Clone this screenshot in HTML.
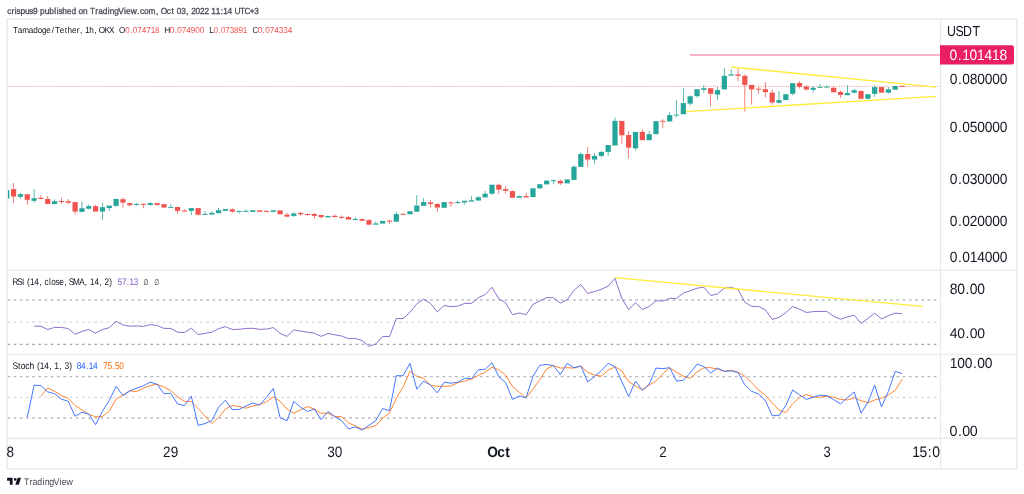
<!DOCTYPE html><html><head><meta charset="utf-8"><title>Tamadoge/Tether chart</title>
<style>html,body{margin:0;padding:0;background:#fff;width:1024px;height:494px;overflow:hidden}svg{display:block}text{font-family:"Liberation Sans", Arial, sans-serif;font-kerning:none;text-rendering:geometricPrecision}</style></head><body>
<svg width="1024" height="494" viewBox="0 0 1024 494">
<text x="7.21 11.66 14.98 16.74 20.58 25.26 29.53 33.23 37.90 40.37 45.04 49.72 54.73 57.19 58.95 62.75 67.37 72.05 76.85 79.24 83.83 88.59 90.93 96.21 99.15 103.73 108.71 110.83 115.27 119.42 124.99 127.10 131.87 138.45 141.17 145.31 149.94 157.35 160.18 162.21 168.34 173.05 176.00 178.33 182.78 187.72 190.56 192.88 197.33 201.77 206.21 210.88 213.21 217.65 222.60 225.21 229.65 234.32 236.48 242.15 246.68 252.02 256.58" y="0" transform="translate(0,14.00) scale(0.9912,1.0508)" font-size="8.405" fill="#434651" stroke="#434651" stroke-width="0.25">crispus9 published on TradingView.com, Oct 03, 2022 11:14 UTC+3</text>
<rect x="7.2" y="19.0" width="1009.6" height="449.9" fill="#fff" stroke="#eaecf0" stroke-width="1.6"/>
<line x1="940.5" y1="19.5" x2="940.5" y2="468.5" stroke="#e8e9ed" stroke-width="1.2"/>
<line x1="7.5" y1="270.1" x2="1016.5" y2="270.1" stroke="#eceef2" stroke-width="1.6"/>
<line x1="7.5" y1="354.5" x2="1016.5" y2="354.5" stroke="#eceef2" stroke-width="1.6"/>
<line x1="7.5" y1="438.4" x2="1016.5" y2="438.4" stroke="#eaeaeb" stroke-width="1.6"/>
<defs><clipPath id="cm"><rect x="8" y="20" width="932" height="250"/></clipPath><clipPath id="cr"><rect x="8" y="271" width="932" height="83"/></clipPath><clipPath id="cs"><rect x="8" y="355" width="932" height="83"/></clipPath><clipPath id="ct"><rect x="7" y="439" width="933" height="30"/></clipPath></defs>
<g clip-path="url(#cm)">
<line x1="690" y1="55" x2="940" y2="55" stroke="#f6b4ca" stroke-width="2"/>
<line x1="8" y1="86.4" x2="940" y2="86.4" stroke="#f3a2a1" stroke-width="1.0" stroke-dasharray="1.2625 1.2625" stroke-dashoffset="0"/>
<rect x="4.17" y="190.20" width="5.2" height="8.30" fill="#26a69a"/>
<rect x="13.23" y="183.10" width="0.75" height="6.00" fill="#ef5350"/>
<rect x="13.23" y="196.60" width="0.75" height="6.40" fill="#ef5350"/>
<rect x="11.00" y="189.10" width="5.2" height="7.50" fill="#ef5350"/>
<rect x="20.06" y="193.00" width="0.75" height="1.20" fill="#26a69a"/>
<rect x="20.06" y="196.80" width="0.75" height="2.00" fill="#26a69a"/>
<rect x="17.84" y="194.20" width="5.2" height="2.60" fill="#26a69a"/>
<rect x="26.90" y="199.80" width="0.75" height="4.90" fill="#ef5350"/>
<rect x="24.67" y="194.20" width="5.2" height="5.60" fill="#ef5350"/>
<rect x="33.73" y="189.10" width="0.75" height="9.10" fill="#26a69a"/>
<rect x="33.73" y="200.80" width="0.75" height="1.90" fill="#26a69a"/>
<rect x="31.51" y="198.20" width="5.2" height="2.60" fill="#26a69a"/>
<rect x="40.56" y="195.20" width="0.75" height="2.60" fill="#ef5350"/>
<rect x="40.56" y="199.00" width="0.75" height="0.30" fill="#ef5350"/>
<rect x="38.34" y="197.80" width="5.2" height="1.20" fill="#ef5350"/>
<rect x="47.40" y="196.00" width="0.75" height="3.00" fill="#ef5350"/>
<rect x="47.40" y="203.90" width="0.75" height="0.60" fill="#ef5350"/>
<rect x="45.17" y="199.00" width="5.2" height="4.90" fill="#ef5350"/>
<rect x="54.23" y="199.30" width="0.75" height="1.90" fill="#26a69a"/>
<rect x="52.01" y="201.20" width="5.2" height="2.90" fill="#26a69a"/>
<rect x="61.07" y="198.00" width="0.75" height="3.00" fill="#ef5350"/>
<rect x="61.07" y="202.00" width="0.75" height="1.90" fill="#ef5350"/>
<rect x="58.84" y="201.00" width="5.2" height="1.00" fill="#ef5350"/>
<rect x="67.90" y="199.00" width="0.75" height="2.20" fill="#ef5350"/>
<rect x="67.90" y="202.80" width="0.75" height="0.90" fill="#ef5350"/>
<rect x="65.68" y="201.20" width="5.2" height="1.60" fill="#ef5350"/>
<rect x="74.73" y="211.60" width="0.75" height="3.00" fill="#ef5350"/>
<rect x="72.51" y="202.10" width="5.2" height="9.50" fill="#ef5350"/>
<rect x="81.57" y="201.50" width="0.75" height="6.70" fill="#26a69a"/>
<rect x="79.34" y="208.20" width="5.2" height="3.70" fill="#26a69a"/>
<rect x="88.40" y="204.30" width="0.75" height="1.80" fill="#26a69a"/>
<rect x="88.40" y="208.70" width="0.75" height="1.00" fill="#26a69a"/>
<rect x="86.18" y="206.10" width="5.2" height="2.60" fill="#26a69a"/>
<rect x="95.24" y="204.90" width="0.75" height="1.20" fill="#ef5350"/>
<rect x="93.01" y="206.10" width="5.2" height="5.50" fill="#ef5350"/>
<rect x="102.07" y="203.10" width="0.75" height="4.10" fill="#26a69a"/>
<rect x="102.07" y="211.60" width="0.75" height="8.10" fill="#26a69a"/>
<rect x="99.85" y="207.20" width="5.2" height="4.40" fill="#26a69a"/>
<rect x="108.90" y="208.10" width="0.75" height="2.80" fill="#26a69a"/>
<rect x="106.68" y="205.60" width="5.2" height="2.50" fill="#26a69a"/>
<rect x="115.74" y="205.80" width="0.75" height="1.10" fill="#26a69a"/>
<rect x="113.51" y="198.90" width="5.2" height="6.90" fill="#26a69a"/>
<rect x="122.57" y="197.40" width="0.75" height="1.80" fill="#ef5350"/>
<rect x="122.57" y="202.70" width="0.75" height="4.90" fill="#ef5350"/>
<rect x="120.35" y="199.20" width="5.2" height="3.50" fill="#ef5350"/>
<rect x="129.41" y="203.00" width="0.75" height="0.10" fill="#ef5350"/>
<rect x="129.41" y="205.20" width="0.75" height="1.40" fill="#ef5350"/>
<rect x="127.18" y="203.10" width="5.2" height="2.10" fill="#ef5350"/>
<rect x="136.24" y="202.70" width="0.75" height="1.20" fill="#26a69a"/>
<rect x="136.24" y="204.90" width="0.75" height="0.70" fill="#26a69a"/>
<rect x="134.02" y="203.90" width="5.2" height="1.00" fill="#26a69a"/>
<rect x="143.08" y="203.50" width="0.75" height="0.40" fill="#ef5350"/>
<rect x="143.08" y="204.90" width="0.75" height="3.40" fill="#ef5350"/>
<rect x="140.85" y="203.90" width="5.2" height="1.00" fill="#ef5350"/>
<rect x="149.91" y="202.20" width="0.75" height="0.90" fill="#26a69a"/>
<rect x="149.91" y="204.90" width="0.75" height="1.00" fill="#26a69a"/>
<rect x="147.68" y="203.10" width="5.2" height="1.80" fill="#26a69a"/>
<rect x="156.74" y="204.90" width="0.75" height="1.00" fill="#ef5350"/>
<rect x="154.52" y="203.10" width="5.2" height="1.80" fill="#ef5350"/>
<rect x="163.58" y="203.80" width="0.75" height="0.40" fill="#ef5350"/>
<rect x="161.35" y="204.20" width="5.2" height="3.40" fill="#ef5350"/>
<rect x="170.41" y="204.20" width="0.75" height="2.70" fill="#26a69a"/>
<rect x="168.19" y="206.90" width="5.2" height="1.00" fill="#26a69a"/>
<rect x="177.25" y="210.90" width="0.75" height="2.80" fill="#ef5350"/>
<rect x="175.02" y="207.00" width="5.2" height="3.90" fill="#ef5350"/>
<rect x="184.08" y="209.10" width="0.75" height="1.40" fill="#ef5350"/>
<rect x="184.08" y="211.60" width="0.75" height="0.50" fill="#ef5350"/>
<rect x="181.85" y="210.50" width="5.2" height="1.10" fill="#ef5350"/>
<rect x="190.91" y="210.90" width="0.75" height="4.00" fill="#26a69a"/>
<rect x="188.69" y="208.10" width="5.2" height="2.80" fill="#26a69a"/>
<rect x="197.75" y="214.80" width="0.75" height="0.70" fill="#ef5350"/>
<rect x="195.52" y="208.10" width="5.2" height="6.70" fill="#ef5350"/>
<rect x="204.58" y="211.10" width="0.75" height="2.80" fill="#26a69a"/>
<rect x="202.36" y="213.90" width="5.2" height="1.00" fill="#26a69a"/>
<rect x="211.41" y="211.10" width="0.75" height="1.80" fill="#26a69a"/>
<rect x="209.19" y="212.90" width="5.2" height="1.70" fill="#26a69a"/>
<rect x="218.25" y="207.80" width="0.75" height="2.40" fill="#26a69a"/>
<rect x="216.02" y="210.20" width="5.2" height="3.00" fill="#26a69a"/>
<rect x="222.86" y="209.10" width="5.2" height="1.80" fill="#26a69a"/>
<rect x="231.92" y="208.10" width="0.75" height="1.20" fill="#ef5350"/>
<rect x="231.92" y="211.70" width="0.75" height="1.20" fill="#ef5350"/>
<rect x="229.69" y="209.30" width="5.2" height="2.40" fill="#ef5350"/>
<rect x="238.75" y="210.50" width="0.75" height="0.40" fill="#26a69a"/>
<rect x="238.75" y="211.90" width="0.75" height="1.60" fill="#26a69a"/>
<rect x="236.53" y="210.90" width="5.2" height="1.00" fill="#26a69a"/>
<rect x="245.59" y="209.30" width="0.75" height="1.55" fill="#26a69a"/>
<rect x="243.36" y="210.85" width="5.2" height="1.00" fill="#26a69a"/>
<rect x="250.19" y="210.20" width="5.2" height="1.70" fill="#26a69a"/>
<rect x="257.03" y="210.30" width="5.2" height="1.50" fill="#ef5350"/>
<rect x="266.09" y="210.50" width="0.75" height="0.40" fill="#ef5350"/>
<rect x="266.09" y="211.90" width="0.75" height="0.40" fill="#ef5350"/>
<rect x="263.86" y="210.90" width="5.2" height="1.00" fill="#ef5350"/>
<rect x="272.92" y="211.80" width="0.75" height="0.70" fill="#26a69a"/>
<rect x="270.70" y="210.30" width="5.2" height="1.50" fill="#26a69a"/>
<rect x="277.53" y="210.40" width="5.2" height="3.90" fill="#ef5350"/>
<rect x="286.59" y="213.00" width="0.75" height="1.60" fill="#ef5350"/>
<rect x="286.59" y="216.70" width="0.75" height="0.60" fill="#ef5350"/>
<rect x="284.36" y="214.60" width="5.2" height="2.10" fill="#ef5350"/>
<rect x="293.42" y="212.10" width="0.75" height="1.30" fill="#26a69a"/>
<rect x="293.42" y="215.90" width="0.75" height="1.10" fill="#26a69a"/>
<rect x="291.20" y="213.40" width="5.2" height="2.50" fill="#26a69a"/>
<rect x="300.26" y="212.10" width="0.75" height="0.70" fill="#ef5350"/>
<rect x="300.26" y="214.30" width="0.75" height="1.40" fill="#ef5350"/>
<rect x="298.03" y="212.80" width="5.2" height="1.50" fill="#ef5350"/>
<rect x="307.09" y="213.40" width="0.75" height="0.60" fill="#ef5350"/>
<rect x="307.09" y="215.00" width="0.75" height="0.90" fill="#ef5350"/>
<rect x="304.87" y="214.00" width="5.2" height="1.00" fill="#ef5350"/>
<rect x="313.92" y="212.90" width="0.75" height="1.10" fill="#ef5350"/>
<rect x="313.92" y="215.90" width="0.75" height="2.80" fill="#ef5350"/>
<rect x="311.70" y="214.00" width="5.2" height="1.90" fill="#ef5350"/>
<rect x="320.76" y="217.10" width="0.75" height="1.60" fill="#ef5350"/>
<rect x="318.53" y="215.00" width="5.2" height="2.10" fill="#ef5350"/>
<rect x="325.37" y="215.90" width="5.2" height="1.50" fill="#26a69a"/>
<rect x="334.43" y="214.10" width="0.75" height="1.70" fill="#ef5350"/>
<rect x="332.20" y="215.80" width="5.2" height="1.30" fill="#ef5350"/>
<rect x="341.26" y="215.60" width="0.75" height="1.20" fill="#ef5350"/>
<rect x="341.26" y="217.90" width="0.75" height="0.80" fill="#ef5350"/>
<rect x="339.04" y="216.80" width="5.2" height="1.10" fill="#ef5350"/>
<rect x="348.09" y="216.20" width="0.75" height="0.80" fill="#ef5350"/>
<rect x="345.87" y="217.00" width="5.2" height="2.60" fill="#ef5350"/>
<rect x="354.93" y="217.10" width="0.75" height="1.90" fill="#26a69a"/>
<rect x="352.70" y="219.00" width="5.2" height="1.00" fill="#26a69a"/>
<rect x="361.76" y="218.40" width="0.75" height="0.70" fill="#ef5350"/>
<rect x="359.54" y="219.10" width="5.2" height="1.70" fill="#ef5350"/>
<rect x="368.60" y="219.10" width="0.75" height="1.00" fill="#ef5350"/>
<rect x="368.60" y="224.70" width="0.75" height="0.50" fill="#ef5350"/>
<rect x="366.37" y="220.10" width="5.2" height="4.60" fill="#ef5350"/>
<rect x="375.43" y="221.20" width="0.75" height="2.20" fill="#26a69a"/>
<rect x="373.21" y="223.40" width="5.2" height="1.30" fill="#26a69a"/>
<rect x="380.04" y="220.90" width="5.2" height="2.70" fill="#26a69a"/>
<rect x="389.10" y="219.80" width="0.75" height="0.80" fill="#ef5350"/>
<rect x="389.10" y="221.70" width="0.75" height="2.10" fill="#ef5350"/>
<rect x="386.87" y="220.60" width="5.2" height="1.10" fill="#ef5350"/>
<rect x="395.93" y="211.70" width="0.75" height="2.40" fill="#26a69a"/>
<rect x="393.71" y="214.10" width="5.2" height="7.60" fill="#26a69a"/>
<rect x="402.77" y="213.50" width="0.75" height="0.30" fill="#ef5350"/>
<rect x="400.54" y="213.80" width="5.2" height="1.00" fill="#ef5350"/>
<rect x="407.38" y="211.20" width="5.2" height="3.10" fill="#26a69a"/>
<rect x="416.43" y="195.00" width="0.75" height="10.50" fill="#26a69a"/>
<rect x="414.21" y="205.50" width="5.2" height="6.20" fill="#26a69a"/>
<rect x="423.27" y="198.10" width="0.75" height="4.00" fill="#26a69a"/>
<rect x="421.04" y="202.10" width="5.2" height="3.70" fill="#26a69a"/>
<rect x="430.10" y="200.10" width="0.75" height="2.30" fill="#ef5350"/>
<rect x="430.10" y="204.00" width="0.75" height="3.60" fill="#ef5350"/>
<rect x="427.88" y="202.40" width="5.2" height="1.60" fill="#ef5350"/>
<rect x="436.94" y="203.30" width="0.75" height="0.70" fill="#ef5350"/>
<rect x="436.94" y="207.60" width="0.75" height="4.20" fill="#ef5350"/>
<rect x="434.71" y="204.00" width="5.2" height="3.60" fill="#ef5350"/>
<rect x="441.55" y="202.10" width="5.2" height="5.70" fill="#26a69a"/>
<rect x="450.60" y="201.30" width="0.75" height="1.10" fill="#ef5350"/>
<rect x="450.60" y="203.50" width="0.75" height="3.50" fill="#ef5350"/>
<rect x="448.38" y="202.40" width="5.2" height="1.10" fill="#ef5350"/>
<rect x="457.44" y="200.70" width="0.75" height="1.30" fill="#26a69a"/>
<rect x="457.44" y="203.00" width="0.75" height="1.10" fill="#26a69a"/>
<rect x="455.21" y="202.00" width="5.2" height="1.00" fill="#26a69a"/>
<rect x="464.27" y="202.40" width="0.75" height="2.20" fill="#26a69a"/>
<rect x="462.05" y="200.70" width="5.2" height="1.70" fill="#26a69a"/>
<rect x="471.11" y="196.20" width="0.75" height="4.10" fill="#26a69a"/>
<rect x="468.88" y="200.30" width="5.2" height="1.30" fill="#26a69a"/>
<rect x="477.94" y="196.20" width="0.75" height="1.00" fill="#26a69a"/>
<rect x="475.72" y="197.20" width="5.2" height="3.40" fill="#26a69a"/>
<rect x="484.77" y="190.90" width="0.75" height="2.80" fill="#26a69a"/>
<rect x="482.55" y="193.70" width="5.2" height="3.70" fill="#26a69a"/>
<rect x="491.61" y="193.70" width="0.75" height="1.10" fill="#26a69a"/>
<rect x="489.38" y="184.70" width="5.2" height="9.00" fill="#26a69a"/>
<rect x="498.44" y="183.50" width="0.75" height="1.30" fill="#ef5350"/>
<rect x="498.44" y="189.70" width="0.75" height="4.30" fill="#ef5350"/>
<rect x="496.22" y="184.80" width="5.2" height="4.90" fill="#ef5350"/>
<rect x="505.28" y="186.20" width="0.75" height="2.90" fill="#ef5350"/>
<rect x="505.28" y="190.90" width="0.75" height="2.80" fill="#ef5350"/>
<rect x="503.05" y="189.10" width="5.2" height="1.80" fill="#ef5350"/>
<rect x="512.11" y="190.50" width="0.75" height="0.60" fill="#ef5350"/>
<rect x="509.89" y="191.10" width="5.2" height="6.70" fill="#ef5350"/>
<rect x="518.94" y="195.40" width="0.75" height="0.80" fill="#26a69a"/>
<rect x="516.72" y="196.20" width="5.2" height="1.60" fill="#26a69a"/>
<rect x="525.78" y="192.40" width="0.75" height="3.70" fill="#ef5350"/>
<rect x="523.55" y="196.10" width="5.2" height="1.40" fill="#ef5350"/>
<rect x="530.39" y="188.30" width="5.2" height="8.80" fill="#26a69a"/>
<rect x="539.45" y="188.30" width="0.75" height="1.00" fill="#26a69a"/>
<rect x="537.22" y="184.20" width="5.2" height="4.10" fill="#26a69a"/>
<rect x="546.28" y="180.20" width="0.75" height="0.40" fill="#26a69a"/>
<rect x="544.06" y="180.60" width="5.2" height="3.80" fill="#26a69a"/>
<rect x="553.12" y="179.60" width="0.75" height="0.60" fill="#26a69a"/>
<rect x="553.12" y="181.20" width="0.75" height="3.20" fill="#26a69a"/>
<rect x="550.89" y="180.20" width="5.2" height="1.00" fill="#26a69a"/>
<rect x="559.95" y="179.40" width="0.75" height="1.50" fill="#ef5350"/>
<rect x="559.95" y="183.40" width="0.75" height="1.50" fill="#ef5350"/>
<rect x="557.72" y="180.90" width="5.2" height="2.50" fill="#ef5350"/>
<rect x="564.56" y="179.40" width="5.2" height="4.00" fill="#26a69a"/>
<rect x="573.62" y="165.20" width="0.75" height="1.50" fill="#26a69a"/>
<rect x="571.39" y="166.70" width="5.2" height="13.20" fill="#26a69a"/>
<rect x="580.45" y="152.30" width="0.75" height="1.70" fill="#26a69a"/>
<rect x="578.23" y="154.00" width="5.2" height="12.90" fill="#26a69a"/>
<rect x="587.28" y="147.10" width="0.75" height="6.90" fill="#ef5350"/>
<rect x="587.28" y="159.60" width="0.75" height="6.90" fill="#ef5350"/>
<rect x="585.06" y="154.00" width="5.2" height="5.60" fill="#ef5350"/>
<rect x="594.12" y="153.10" width="0.75" height="2.80" fill="#26a69a"/>
<rect x="594.12" y="159.60" width="0.75" height="3.90" fill="#26a69a"/>
<rect x="591.89" y="155.90" width="5.2" height="3.70" fill="#26a69a"/>
<rect x="600.95" y="151.10" width="0.75" height="0.80" fill="#26a69a"/>
<rect x="600.95" y="155.90" width="0.75" height="1.70" fill="#26a69a"/>
<rect x="598.73" y="151.90" width="5.2" height="4.00" fill="#26a69a"/>
<rect x="607.79" y="151.90" width="0.75" height="3.70" fill="#26a69a"/>
<rect x="605.56" y="145.00" width="5.2" height="6.90" fill="#26a69a"/>
<rect x="614.62" y="117.50" width="0.75" height="3.40" fill="#26a69a"/>
<rect x="612.40" y="120.90" width="5.2" height="24.60" fill="#26a69a"/>
<rect x="621.45" y="135.30" width="0.75" height="8.40" fill="#ef5350"/>
<rect x="619.23" y="120.90" width="5.2" height="14.40" fill="#ef5350"/>
<rect x="628.29" y="131.00" width="0.75" height="4.00" fill="#ef5350"/>
<rect x="628.29" y="147.70" width="0.75" height="10.90" fill="#ef5350"/>
<rect x="626.06" y="135.00" width="5.2" height="12.70" fill="#ef5350"/>
<rect x="635.12" y="148.30" width="0.75" height="2.40" fill="#26a69a"/>
<rect x="632.90" y="131.90" width="5.2" height="16.40" fill="#26a69a"/>
<rect x="641.96" y="129.10" width="0.75" height="2.80" fill="#ef5350"/>
<rect x="639.73" y="131.90" width="5.2" height="8.30" fill="#ef5350"/>
<rect x="648.79" y="131.00" width="0.75" height="3.20" fill="#26a69a"/>
<rect x="646.57" y="134.20" width="5.2" height="6.00" fill="#26a69a"/>
<rect x="653.40" y="121.20" width="5.2" height="13.00" fill="#26a69a"/>
<rect x="662.46" y="119.30" width="0.75" height="1.45" fill="#ef5350"/>
<rect x="662.46" y="121.75" width="0.75" height="6.05" fill="#ef5350"/>
<rect x="660.23" y="120.75" width="5.2" height="1.00" fill="#ef5350"/>
<rect x="669.29" y="112.30" width="0.75" height="2.80" fill="#26a69a"/>
<rect x="667.07" y="115.10" width="5.2" height="6.40" fill="#26a69a"/>
<rect x="676.13" y="100.20" width="0.75" height="14.40" fill="#26a69a"/>
<rect x="676.13" y="115.60" width="0.75" height="1.60" fill="#26a69a"/>
<rect x="673.90" y="114.60" width="5.2" height="1.00" fill="#26a69a"/>
<rect x="682.96" y="88.30" width="0.75" height="14.80" fill="#26a69a"/>
<rect x="680.74" y="103.10" width="5.2" height="11.20" fill="#26a69a"/>
<rect x="689.79" y="95.50" width="0.75" height="0.70" fill="#26a69a"/>
<rect x="689.79" y="103.70" width="0.75" height="1.90" fill="#26a69a"/>
<rect x="687.57" y="96.20" width="5.2" height="7.50" fill="#26a69a"/>
<rect x="696.63" y="96.20" width="0.75" height="1.50" fill="#26a69a"/>
<rect x="694.40" y="89.20" width="5.2" height="7.00" fill="#26a69a"/>
<rect x="703.46" y="85.30" width="0.75" height="2.90" fill="#26a69a"/>
<rect x="703.46" y="89.80" width="0.75" height="2.80" fill="#26a69a"/>
<rect x="701.24" y="88.20" width="5.2" height="1.60" fill="#26a69a"/>
<rect x="710.30" y="93.80" width="0.75" height="12.60" fill="#ef5350"/>
<rect x="708.07" y="88.20" width="5.2" height="5.60" fill="#ef5350"/>
<rect x="717.13" y="87.00" width="0.75" height="3.10" fill="#26a69a"/>
<rect x="717.13" y="94.60" width="0.75" height="5.30" fill="#26a69a"/>
<rect x="714.91" y="90.10" width="5.2" height="4.50" fill="#26a69a"/>
<rect x="723.96" y="67.90" width="0.75" height="7.90" fill="#26a69a"/>
<rect x="721.74" y="75.80" width="5.2" height="13.60" fill="#26a69a"/>
<rect x="730.80" y="69.10" width="0.75" height="5.20" fill="#26a69a"/>
<rect x="728.57" y="74.30" width="5.2" height="1.30" fill="#26a69a"/>
<rect x="737.63" y="69.10" width="0.75" height="5.20" fill="#ef5350"/>
<rect x="737.63" y="75.80" width="0.75" height="5.10" fill="#ef5350"/>
<rect x="735.41" y="74.30" width="5.2" height="1.50" fill="#ef5350"/>
<rect x="744.47" y="74.30" width="0.75" height="1.50" fill="#ef5350"/>
<rect x="744.47" y="84.90" width="0.75" height="26.70" fill="#ef5350"/>
<rect x="742.24" y="75.80" width="5.2" height="9.10" fill="#ef5350"/>
<rect x="751.30" y="89.40" width="0.75" height="15.30" fill="#ef5350"/>
<rect x="749.08" y="84.90" width="5.2" height="4.50" fill="#ef5350"/>
<rect x="758.13" y="87.00" width="0.75" height="1.70" fill="#ef5350"/>
<rect x="758.13" y="89.70" width="0.75" height="4.10" fill="#ef5350"/>
<rect x="755.91" y="88.70" width="5.2" height="1.00" fill="#ef5350"/>
<rect x="764.97" y="82.10" width="0.75" height="7.10" fill="#ef5350"/>
<rect x="764.97" y="92.20" width="0.75" height="5.20" fill="#ef5350"/>
<rect x="762.74" y="89.20" width="5.2" height="3.00" fill="#ef5350"/>
<rect x="771.80" y="89.80" width="0.75" height="2.80" fill="#ef5350"/>
<rect x="771.80" y="102.50" width="0.75" height="2.20" fill="#ef5350"/>
<rect x="769.58" y="92.60" width="5.2" height="9.90" fill="#ef5350"/>
<rect x="778.64" y="91.00" width="0.75" height="9.10" fill="#26a69a"/>
<rect x="778.64" y="102.80" width="0.75" height="0.90" fill="#26a69a"/>
<rect x="776.41" y="100.10" width="5.2" height="2.70" fill="#26a69a"/>
<rect x="783.25" y="94.20" width="5.2" height="5.90" fill="#26a69a"/>
<rect x="792.30" y="93.80" width="0.75" height="1.40" fill="#26a69a"/>
<rect x="790.08" y="83.20" width="5.2" height="10.60" fill="#26a69a"/>
<rect x="799.14" y="81.20" width="0.75" height="1.80" fill="#ef5350"/>
<rect x="799.14" y="86.80" width="0.75" height="1.70" fill="#ef5350"/>
<rect x="796.91" y="83.00" width="5.2" height="3.80" fill="#ef5350"/>
<rect x="805.97" y="85.00" width="0.75" height="1.50" fill="#ef5350"/>
<rect x="805.97" y="89.50" width="0.75" height="1.30" fill="#ef5350"/>
<rect x="803.75" y="86.50" width="5.2" height="3.00" fill="#ef5350"/>
<rect x="812.81" y="86.00" width="0.75" height="1.80" fill="#26a69a"/>
<rect x="812.81" y="89.80" width="0.75" height="2.70" fill="#26a69a"/>
<rect x="810.58" y="87.80" width="5.2" height="2.00" fill="#26a69a"/>
<rect x="819.64" y="84.00" width="0.75" height="2.80" fill="#26a69a"/>
<rect x="817.42" y="86.80" width="5.2" height="1.00" fill="#26a69a"/>
<rect x="826.47" y="85.20" width="0.75" height="1.40" fill="#26a69a"/>
<rect x="826.47" y="87.60" width="0.75" height="0.50" fill="#26a69a"/>
<rect x="824.25" y="86.60" width="5.2" height="1.00" fill="#26a69a"/>
<rect x="833.31" y="86.50" width="0.75" height="1.30" fill="#ef5350"/>
<rect x="831.08" y="87.80" width="5.2" height="4.50" fill="#ef5350"/>
<rect x="840.14" y="90.40" width="0.75" height="1.60" fill="#ef5350"/>
<rect x="840.14" y="94.90" width="0.75" height="3.00" fill="#ef5350"/>
<rect x="837.92" y="92.00" width="5.2" height="2.90" fill="#ef5350"/>
<rect x="846.98" y="85.30" width="0.75" height="7.70" fill="#26a69a"/>
<rect x="844.75" y="93.00" width="5.2" height="2.20" fill="#26a69a"/>
<rect x="853.81" y="88.80" width="0.75" height="1.40" fill="#26a69a"/>
<rect x="853.81" y="92.70" width="0.75" height="0.70" fill="#26a69a"/>
<rect x="851.59" y="90.20" width="5.2" height="2.50" fill="#26a69a"/>
<rect x="860.64" y="90.40" width="0.75" height="0.60" fill="#ef5350"/>
<rect x="858.42" y="91.00" width="5.2" height="7.80" fill="#ef5350"/>
<rect x="867.48" y="98.80" width="0.75" height="0.70" fill="#26a69a"/>
<rect x="865.25" y="94.20" width="5.2" height="4.60" fill="#26a69a"/>
<rect x="874.31" y="85.30" width="0.75" height="1.80" fill="#26a69a"/>
<rect x="874.31" y="93.90" width="0.75" height="2.90" fill="#26a69a"/>
<rect x="872.09" y="87.10" width="5.2" height="6.80" fill="#26a69a"/>
<rect x="878.92" y="87.10" width="5.2" height="5.60" fill="#ef5350"/>
<rect x="887.98" y="87.10" width="0.75" height="2.20" fill="#26a69a"/>
<rect x="887.98" y="92.70" width="0.75" height="1.00" fill="#26a69a"/>
<rect x="885.76" y="89.30" width="5.2" height="3.40" fill="#26a69a"/>
<rect x="892.59" y="86.00" width="5.2" height="3.70" fill="#26a69a"/>
<rect x="899.42" y="85.80" width="5.2" height="1.10" fill="#ef5350"/>
<line x1="731.3" y1="67" x2="936.3" y2="87.1" stroke="#ffeb3b" stroke-width="1.35"/>
<line x1="686" y1="111.6" x2="936.3" y2="96.3" stroke="#ffeb3b" stroke-width="1.35"/>
</g>
<text x="13.02 17.76 22.17 28.84 33.26 37.73 41.98 46.26 51.76 54.92 59.75 64.73 67.44 71.90 76.63 79.95 82.68 84.91 89.28 94.15 96.88 98.83 104.39 109.02" y="0" transform="translate(0,33.15) scale(1.0000,1.0668)" font-size="8.175" fill="#131722">Tamadoge/Tether, 1h, OKX</text>
<text x="137.47" y="0" transform="translate(0,33.15) scale(0.8665,0.9379)" font-size="9.298" fill="#131722">O</text>
<text x="129.50 134.59 137.32 141.92 146.52 151.11 155.71 160.31" y="0" transform="translate(0,33.15) scale(0.9674,1.0121)" font-size="8.490" fill="#ef5350">0.074718</text>
<text x="181.33" y="0" transform="translate(0,33.15) scale(0.9056,0.9387)" font-size="9.291" fill="#131722">H</text>
<text x="175.50 180.60 183.33 187.94 192.55 197.15 201.76 206.37" y="0" transform="translate(0,33.15) scale(0.9674,1.0102)" font-size="8.506" fill="#ef5350">0.074900</text>
<text x="230.08" y="0" transform="translate(0,33.15) scale(0.9098,0.9718)" font-size="8.974" fill="#131722">L</text>
<text x="220.67 225.68 228.37 232.89 237.41 241.93 246.46 250.98" y="0" transform="translate(0,33.15) scale(0.9674,1.0291)" font-size="8.350" fill="#ef5350">0.073891</text>
<text x="305.07" y="0" transform="translate(0,33.15) scale(0.8281,0.9528)" font-size="9.153" fill="#131722">C</text>
<text x="266.36 271.47 274.22 278.84 283.47 288.09 292.71 297.34" y="0" transform="translate(0,33.15) scale(0.9674,1.0066)" font-size="8.536" fill="#ef5350">0.074334</text>
<text x="1109.66 1119.66 1128.56 1139.52" y="0" transform="translate(0,35.90) scale(0.8534,1.0019)" font-size="14.508" fill="#131722">USDT</text>
<path d="M940 45.3 H1011.9 a2.1 2.1 0 0 1 2.1 2.1 V62.5 a2.1 2.1 0 0 1 -2.1 2.1 H940 Z" fill="#e91e63"/>
<text x="981.44 989.99 994.57 1002.30 1010.02 1017.74 1025.47 1033.19" y="0" transform="translate(0,59.90) scale(0.9674,1.0445)" font-size="14.260" fill="#fff">0.101418</text>
<text x="981.65 990.20 994.79 1002.52 1010.25 1017.98 1025.70 1033.43" y="0" transform="translate(0,83.50) scale(0.9674,1.0388)" font-size="14.270" fill="#131722">0.080000</text>
<text x="981.65 990.20 994.79 1002.52 1010.25 1017.98 1025.70 1033.43" y="0" transform="translate(0,131.90) scale(0.9674,1.0388)" font-size="14.270" fill="#131722">0.050000</text>
<text x="981.65 990.20 994.79 1002.52 1010.25 1017.98 1025.70 1033.43" y="0" transform="translate(0,184.40) scale(0.9674,1.0388)" font-size="14.270" fill="#131722">0.030000</text>
<text x="981.65 990.20 994.79 1002.52 1010.25 1017.98 1025.70 1033.43" y="0" transform="translate(0,226.10) scale(0.9674,1.0388)" font-size="14.270" fill="#131722">0.020000</text>
<text x="981.65 990.20 994.79 1002.52 1010.25 1017.98 1025.70 1033.43" y="0" transform="translate(0,262.40) scale(0.9674,1.0388)" font-size="14.270" fill="#131722">0.014000</text>
<g clip-path="url(#cr)">
<line x1="8" y1="300.0" x2="940" y2="300.0" stroke="#b9bcc2" stroke-width="1.4" stroke-dasharray="2.7 3.5175" stroke-dashoffset="0.67"/>
<line x1="8" y1="322.1" x2="940" y2="322.1" stroke="#d6d7dc" stroke-width="1.3" stroke-dasharray="2.7 3.5175" stroke-dashoffset="0.67"/>
<line x1="8" y1="344.4" x2="940" y2="344.4" stroke="#a3a6ae" stroke-width="1.2" stroke-dasharray="2.7 3.5175" stroke-dashoffset="0.67"/>
<polyline points="34.11,326.20 40.94,326.20 47.77,329.50 54.61,327.40 61.44,327.40 68.28,328.60 75.11,334.30 81.94,331.30 88.78,329.50 95.61,333.10 102.45,329.50 109.28,327.70 116.11,321.30 122.95,325.00 129.78,326.20 136.62,326.00 143.45,326.40 150.28,324.60 157.12,325.50 163.95,328.40 170.79,328.40 177.62,332.20 184.45,332.60 191.29,328.10 198.12,334.60 204.96,333.40 211.79,332.20 218.62,328.70 225.46,326.70 232.29,329.50 239.13,329.30 245.96,328.40 252.79,328.30 259.63,329.30 266.46,329.10 273.30,327.60 280.13,333.40 286.96,336.40 293.80,329.90 300.63,331.10 307.47,332.30 314.30,333.20 321.13,336.40 327.97,333.40 334.80,334.80 341.64,336.00 348.47,338.70 355.30,338.40 362.14,340.50 368.97,346.30 375.81,344.00 382.64,336.40 389.47,336.70 396.31,318.50 403.14,318.50 409.98,312.30 416.81,303.80 423.64,299.10 430.48,303.40 437.31,311.90 444.15,305.50 450.98,306.60 457.81,306.20 464.65,303.40 471.48,303.40 478.32,297.70 485.15,294.60 491.98,287.30 498.82,298.80 505.65,302.90 512.49,314.60 519.32,313.00 526.15,314.60 532.99,304.40 539.82,300.90 546.66,297.60 553.49,297.60 560.32,303.20 567.16,299.70 573.99,290.30 580.83,284.50 587.66,293.50 594.49,291.50 601.33,289.30 608.16,286.10 615.00,278.40 621.83,298.40 628.66,309.70 635.50,302.70 642.33,309.50 649.17,306.60 656.00,300.70 662.83,301.10 669.67,298.40 676.50,298.40 683.34,293.10 690.17,290.80 697.00,288.20 703.84,287.20 710.67,295.50 717.51,294.00 724.34,287.90 731.17,287.30 738.01,289.60 744.84,302.20 751.68,306.40 758.51,306.40 765.34,309.90 772.18,319.50 779.01,317.40 785.85,312.70 792.68,306.40 799.51,309.20 806.35,312.50 813.18,311.60 820.02,311.40 826.85,311.40 833.68,316.40 840.52,319.20 847.35,316.90 854.19,315.20 861.02,323.40 867.85,318.40 874.69,313.10 881.52,319.00 888.36,315.70 895.19,313.10 902.02,313.70" fill="none" stroke="#8a67c9" stroke-width="0.95" stroke-linejoin="round"/>
<line x1="614.8" y1="277.6" x2="922.6" y2="306.3" stroke="#ffeb3b" stroke-width="1.35"/>
</g>
<text x="12.95 17.82 22.78 25.31 27.99 30.94 35.51 40.58 43.49 46.03 50.65 52.87 57.22 61.13 66.29 69.21 70.98 75.47 81.84 87.66 90.58 93.01 97.58 102.65 105.56 107.99 112.82" y="0" transform="translate(0,284.70) scale(0.9678,1.1353)" font-size="8.450" fill="#131722">RSI (14, close, SMA, 14, 2)</text>
<text x="119.45 123.91 128.85 131.47 135.93" y="0" transform="translate(0,284.70) scale(0.9842,1.1472)" font-size="8.362" fill="#7e57c2">57.13</text>
<text transform="translate(143.47,284.70) scale(0.7121,1.0212)" font-size="8.0" fill="#131722" style="font-family:'DejaVu Sans',sans-serif">∅</text>
<text transform="translate(154.37,284.70) scale(0.7121,1.0212)" font-size="8.0" fill="#131722" style="font-family:'DejaVu Sans',sans-serif">∅</text>
<text x="965.11 972.63 981.00 985.43 992.96" y="0" transform="translate(0,293.60) scale(0.9842,1.0536)" font-size="14.136" fill="#131722">80.00</text>
<text x="964.99 972.54 980.93 985.38 992.93" y="0" transform="translate(0,337.80) scale(0.9842,0.9895)" font-size="14.184" fill="#131722">40.00</text>
<g clip-path="url(#cs)">
<line x1="8" y1="376.6" x2="940" y2="376.6" stroke="#b4b7bd" stroke-width="1.3" stroke-dasharray="2.7 3.5175" stroke-dashoffset="0.67"/>
<line x1="8" y1="397.3" x2="940" y2="397.3" stroke="#d6d7dc" stroke-width="1.3" stroke-dasharray="2.7 3.5175" stroke-dashoffset="0.67"/>
<line x1="8" y1="418.0" x2="940" y2="418.0" stroke="#babcc2" stroke-width="1.6" stroke-dasharray="2.7 3.5175" stroke-dashoffset="0.67"/>
<polyline points="40.94,396.10 47.77,388.00 54.61,391.30 61.44,395.50 68.28,398.50 75.11,405.50 81.94,409.80 88.78,414.30 95.61,416.80 102.45,416.40 109.28,411.20 116.11,399.20 122.95,394.90 129.78,390.90 136.62,391.60 143.45,388.20 150.28,385.50 157.12,384.30 163.95,387.00 170.79,390.60 177.62,396.70 184.45,401.30 191.29,401.60 198.12,408.40 204.96,416.00 211.79,423.60 218.62,417.50 225.46,409.00 232.29,405.40 239.13,406.60 245.96,408.20 252.79,406.00 259.63,404.60 266.46,401.80 273.30,396.90 280.13,401.20 286.96,409.00 293.80,413.30 300.63,409.70 307.47,406.60 314.30,409.00 321.13,413.30 327.97,413.30 334.80,416.30 341.64,416.70 348.47,422.80 355.30,426.00 362.14,429.00 368.97,427.50 375.81,425.60 382.64,418.30 389.47,413.00 396.31,398.40 403.14,386.80 409.98,371.40 416.81,376.20 423.64,378.30 430.48,385.10 437.31,386.40 444.15,386.40 450.98,385.90 457.81,382.70 464.65,381.10 471.48,379.10 478.32,375.40 485.15,372.20 491.98,367.30 498.82,369.80 505.65,375.10 512.49,386.40 519.32,392.40 526.15,397.80 532.99,389.20 539.82,379.50 546.66,369.00 553.49,365.40 560.32,368.10 567.16,367.70 573.99,368.10 580.83,366.00 587.66,372.20 594.49,375.10 601.33,376.20 608.16,370.20 615.00,366.80 621.83,370.90 628.66,381.60 635.50,385.90 642.33,389.70 649.17,385.10 656.00,381.10 662.83,373.80 669.67,367.70 676.50,372.20 683.34,376.20 690.17,378.30 697.00,372.00 703.84,367.70 710.67,367.70 717.51,369.00 724.34,371.40 731.17,370.20 738.01,372.20 744.84,376.20 751.68,382.70 758.51,390.00 765.34,395.20 772.18,402.90 779.01,410.20 785.85,412.50 792.68,403.80 799.51,397.30 806.35,394.50 813.18,396.80 820.02,397.30 826.85,396.10 833.68,397.30 840.52,399.40 847.35,400.00 854.19,397.80 861.02,400.70 867.85,402.70 874.69,400.00 881.52,398.10 888.36,394.90 895.19,390.30 902.02,379.50" fill="none" stroke="#ff8533" stroke-width="1.0" stroke-linejoin="round"/>
<polyline points="27.27,417.40 34.11,385.20 40.94,385.50 47.77,391.90 54.61,393.70 61.44,399.20 68.28,401.30 75.11,416.20 81.94,412.30 88.78,414.00 95.61,424.70 102.45,411.30 109.28,400.50 116.11,386.40 122.95,395.50 129.78,390.90 136.62,388.20 143.45,385.80 150.28,382.10 157.12,384.30 163.95,393.70 170.79,393.30 177.62,404.00 184.45,405.50 191.29,396.20 198.12,425.40 204.96,423.60 211.79,420.60 218.62,407.20 225.46,400.20 232.29,409.70 239.13,409.40 245.96,406.00 252.79,403.00 259.63,405.00 266.46,397.50 273.30,388.40 280.13,417.90 286.96,420.80 293.80,401.40 300.63,407.20 307.47,411.50 314.30,409.00 321.13,419.60 327.97,411.50 334.80,416.70 341.64,420.60 348.47,428.80 355.30,426.90 362.14,430.10 368.97,425.30 375.81,420.70 382.64,408.60 389.47,410.70 396.31,375.70 403.14,375.70 409.98,363.30 416.81,389.20 423.64,381.10 430.48,385.10 437.31,392.90 444.15,382.20 450.98,383.20 457.81,382.20 464.65,378.30 471.48,378.70 478.32,369.80 485.15,369.30 491.98,362.80 498.82,376.70 505.65,382.70 512.49,399.40 519.32,396.10 526.15,397.80 532.99,376.20 539.82,365.40 546.66,364.40 553.49,365.70 560.32,374.60 567.16,363.30 573.99,367.70 580.83,366.00 587.66,381.90 594.49,376.70 601.33,370.60 608.16,363.30 615.00,366.60 621.83,381.60 628.66,396.50 635.50,381.10 642.33,390.30 649.17,384.30 656.00,368.10 662.83,368.60 669.67,367.70 676.50,381.10 683.34,380.30 690.17,373.00 697.00,364.20 703.84,366.50 710.67,373.00 717.51,368.10 724.34,371.40 731.17,370.90 738.01,372.50 744.84,384.80 751.68,391.30 758.51,394.00 765.34,400.50 772.18,415.60 779.01,415.60 785.85,405.40 792.68,390.00 799.51,394.80 806.35,399.40 813.18,397.30 820.02,395.20 826.85,395.70 833.68,399.70 840.52,403.80 847.35,397.80 854.19,391.90 861.02,413.20 867.85,402.50 874.69,385.10 881.52,407.00 888.36,391.30 895.19,371.40 902.02,373.50" fill="none" stroke="#4677ff" stroke-width="1.0" stroke-linejoin="round"/>
</g>
<text x="12.51 17.90 20.68 25.31 29.50 34.28 36.89 39.73 44.18 49.16 52.00 54.32 59.29 62.13 64.46 69.20" y="0" transform="translate(0,368.90) scale(1.0000,1.1283)" font-size="8.504" fill="#131722">Stoch (14, 1, 3)</text>
<text x="77.86 82.38 87.41 90.07 94.59" y="0" transform="translate(0,368.90) scale(0.9842,1.1303)" font-size="8.489" fill="#2962ff">84.14</text>
<text x="104.62 109.11 114.10 116.74 121.22" y="0" transform="translate(0,368.90) scale(0.9842,1.1558)" font-size="8.426" fill="#ff6d00">75.50</text>
<text x="972.61 980.21 987.82 996.25 1000.74 1008.35" y="0" transform="translate(0,367.90) scale(0.9766,1.0258)" font-size="14.169" fill="#131722">100.00</text>
<text x="953.11 961.51 965.93 973.46" y="0" transform="translate(0,436.30) scale(0.9963,1.0195)" font-size="14.329" fill="#131722">0.00</text>
<g clip-path="url(#ct)">
<text x="-1.09 6.85" y="0" transform="translate(0,456.70) scale(0.9422,1.0534)" font-size="14.276" fill="#131722">28</text>
<text x="173.12 181.15" y="0" transform="translate(0,456.70) scale(0.9422,1.0417)" font-size="14.435" fill="#131722">29</text>
<text x="347.36 355.40" y="0" transform="translate(0,456.70) scale(0.9422,1.0402)" font-size="14.457" fill="#131722">30</text>
<text x="518.99 529.74 538.32" y="0" transform="translate(0,456.70) scale(0.9388,1.0263)" font-size="14.652" fill="#131722" font-weight="bold">Oct</text>
<text x="699.57" y="0" transform="translate(0,456.70) scale(0.9422,1.0581)" font-size="14.212" fill="#131722">2</text>
<text x="874.04" y="0" transform="translate(0,456.70) scale(0.9422,1.1012)" font-size="13.655" fill="#131722">3</text>
<text x="926.85 934.39 942.76 947.20 954.74" y="0" transform="translate(0,456.70) scale(0.9842,1.0779)" font-size="14.159" fill="#131722">15:00</text>
</g>
<g fill="#131722"><path d="M7.1 477.8 H12.6 V484.8 H9.8 V480.7 H7.1 Z"/><circle cx="15.2" cy="479.4" r="1.3"/><path d="M17.6 477.8 H21 L18.8 484.8 H15.3 Z"/></g>
<text x="23.95 29.48 32.55 37.34 42.55 44.76 49.40 53.74 59.57 61.77 66.75" y="0" transform="translate(0,484.80) scale(0.9978,1.0846)" font-size="8.845" fill="#434651">TradingView</text>
</svg></body></html>
